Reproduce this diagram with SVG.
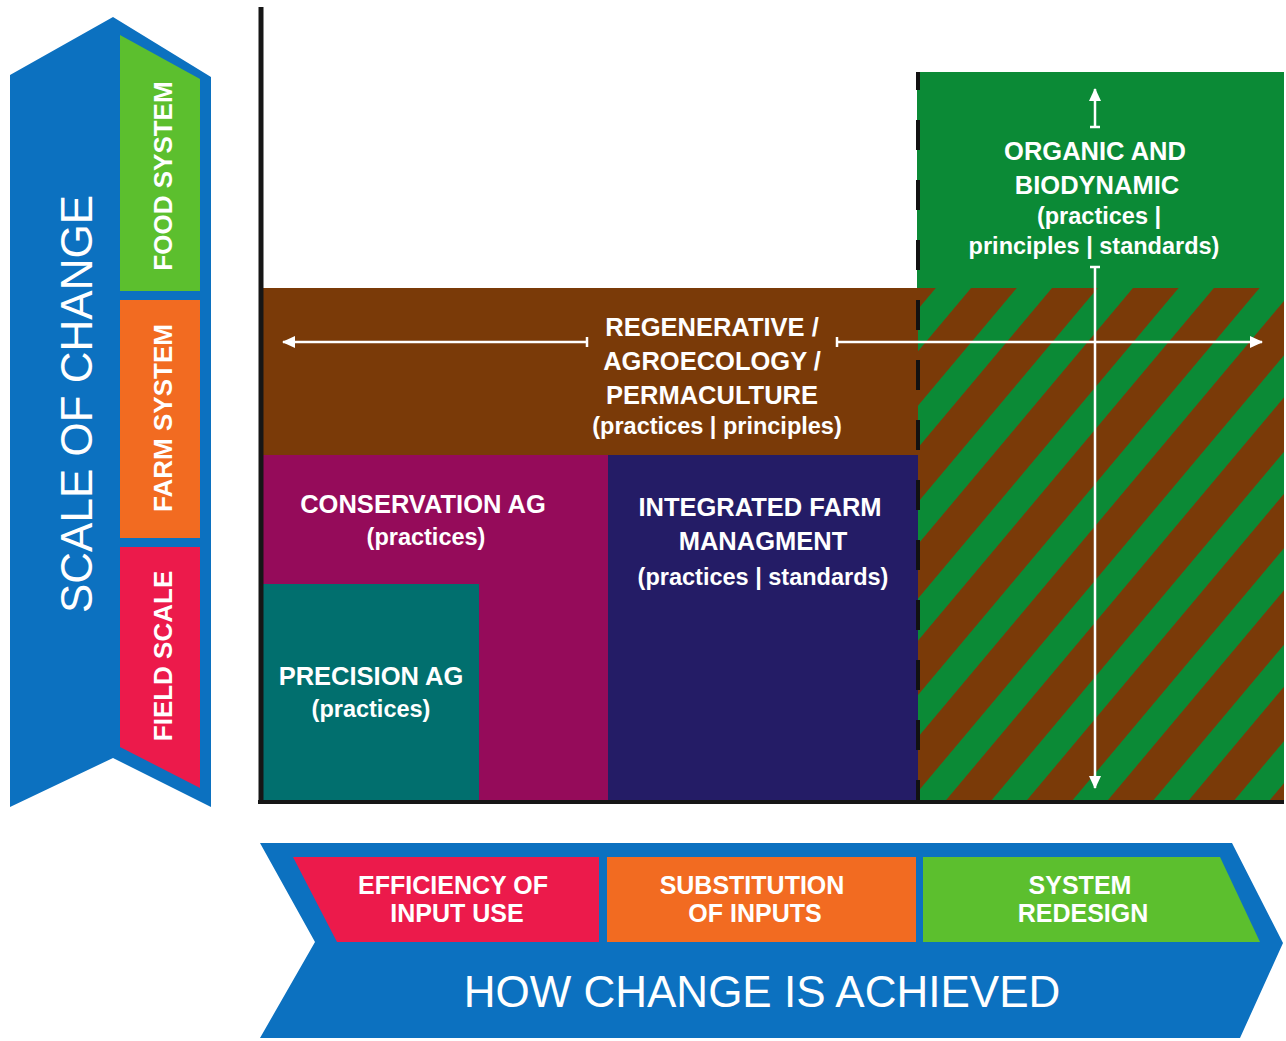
<svg xmlns="http://www.w3.org/2000/svg" width="1286" height="1041" viewBox="0 0 1286 1041">
  <style>
    .t { font-family: "Liberation Sans", Arial, sans-serif; fill: #ffffff; text-anchor: middle; }
    .h { font-size: 25.5px; font-weight: bold; }
    .s { font-size: 23.5px; font-weight: bold; }
    .side { font-size: 26px; font-weight: bold; }
    .big { font-size: 44px; font-weight: normal; }
    .bot { font-size: 25px; font-weight: bold; }
    .arr { stroke: #ffffff; stroke-width: 2.5; fill: none; }
    .tick { stroke: #ffffff; stroke-width: 2.5; }
  </style>
  <defs>
    <marker id="ah" markerUnits="userSpaceOnUse" markerWidth="14" markerHeight="12" refX="12" refY="6" orient="auto">
      <path d="M0,0 L13,6 L0,12 Z" fill="#ffffff"/>
    </marker>
    <pattern id="hatch" patternUnits="userSpaceOnUse" width="62" height="62" patternTransform="translate(1052,288) rotate(40)">
      <rect x="0" y="0" width="62" height="62" fill="#0b8a36"/>
      <rect x="0" y="0" width="35" height="62" fill="#7a3a08"/>
    </pattern>
  </defs>

  <rect width="1286" height="1041" fill="#ffffff"/>

  <!-- Scale of change (left chevron) -->
  <g id="scale-of-change">
    <polygon points="10,75 113,17 211,77 211,807 113,758 10,807" fill="#0c71c0"/>
    <text class="t big" transform="translate(92,404) rotate(-90)">SCALE OF CHANGE</text>
  </g>
  <g id="food-system">
    <polygon points="120,35 200,79 200,291 120,291" fill="#5cbf2e"/>
    <text class="t side" transform="translate(172,176) rotate(-90)">FOOD SYSTEM</text>
  </g>
  <g id="farm-system">
    <rect x="120" y="300" width="80" height="238" fill="#f26b21"/>
    <text class="t side" transform="translate(172,418) rotate(-90)">FARM SYSTEM</text>
  </g>
  <g id="field-scale">
    <polygon points="120,547 200,547 200,788 120,747" fill="#ec1a4b"/>
    <text class="t side" transform="translate(172,656) rotate(-90)">FIELD SCALE</text>
  </g>

  <!-- Organic and biodynamic -->
  <g id="organic">
    <rect x="917" y="72" width="367" height="217" fill="#0b8a36"/>
    <rect x="918" y="288" width="366" height="512" fill="url(#hatch)"/>
    <text class="t h" x="1095" y="160">ORGANIC AND</text>
    <text class="t h" x="1097" y="194">BIODYNAMIC</text>
    <text class="t s" x="1099" y="224">(practices |</text>
    <text class="t s" x="1094" y="254">principles | standards)</text>
  </g>

  <!-- Regenerative -->
  <g id="regenerative">
    <rect x="263" y="288" width="655" height="168" fill="#7a3a08"/>
    <text class="t h" x="712" y="336">REGENERATIVE /</text>
    <text class="t h" x="712" y="370">AGROECOLOGY /</text>
    <text class="t h" x="712" y="404">PERMACULTURE</text>
    <text class="t s" x="717" y="434">(practices | principles)</text>
  </g>

  <!-- Conservation AG -->
  <g id="conservation">
    <rect x="263" y="455" width="345" height="346" fill="#950b5a"/>
    <text class="t h" x="423" y="513">CONSERVATION AG</text>
    <text class="t s" x="426" y="545">(practices)</text>
  </g>

  <!-- Precision AG -->
  <g id="precision">
    <rect x="263" y="584" width="216" height="217" fill="#016f6e"/>
    <text class="t h" x="371" y="685">PRECISION AG</text>
    <text class="t s" x="371" y="717">(practices)</text>
  </g>

  <!-- Integrated farm management -->
  <g id="integrated">
    <rect x="608" y="455" width="310" height="346" fill="#241c66"/>
    <text class="t h" x="760" y="516">INTEGRATED FARM</text>
    <text class="t h" x="763" y="550">MANAGMENT</text>
    <text class="t s" x="763" y="585">(practices | standards)</text>
  </g>

  <!-- Axes and dashed divider -->
  <g id="axes">
    <line x1="261" y1="7" x2="261" y2="804" stroke="#161616" stroke-width="5"/>
    <line x1="258" y1="802" x2="1284" y2="802" stroke="#161616" stroke-width="4"/>
    <line x1="918" y1="72" x2="918" y2="800" stroke="#111111" stroke-width="4" stroke-dasharray="30 30" stroke-dashoffset="12"/>
  </g>

  <!-- Connectors -->
  <g id="connectors">
    <line class="arr" x1="587" y1="342" x2="283" y2="342" marker-end="url(#ah)"/>
    <line class="tick" x1="587" y1="337" x2="587" y2="347"/>
    <line class="arr" x1="837" y1="342" x2="1262" y2="342" marker-end="url(#ah)"/>
    <line class="tick" x1="837" y1="337" x2="837" y2="347"/>
    <line class="arr" x1="1095" y1="127" x2="1095" y2="89" marker-end="url(#ah)"/>
    <line class="tick" x1="1090" y1="127" x2="1100" y2="127"/>
    <line class="arr" x1="1095" y1="267" x2="1095" y2="788" marker-end="url(#ah)"/>
    <line class="tick" x1="1090" y1="267" x2="1100" y2="267"/>
  </g>

  <!-- How change is achieved (bottom chevron) -->
  <g id="how-change">
    <polygon points="260,843 1232,843 1283,943 1240,1038 260,1038 315,942" fill="#0c71c0"/>
    <text class="t big" x="762" y="1007">HOW CHANGE IS ACHIEVED</text>
  </g>
  <g id="efficiency">
    <polygon points="293,857 599,857 599,942 337,942" fill="#ec1a4b"/>
    <text class="t bot" x="453" y="894">EFFICIENCY OF</text>
    <text class="t bot" x="457" y="922">INPUT USE</text>
  </g>
  <g id="substitution">
    <rect x="607" y="857" width="309" height="85" fill="#f26b21"/>
    <text class="t bot" x="752" y="894">SUBSTITUTION</text>
    <text class="t bot" x="755" y="922">OF INPUTS</text>
  </g>
  <g id="redesign">
    <polygon points="923,857 1220,857 1260,942 923,942" fill="#5cbf2e"/>
    <text class="t bot" x="1080" y="894">SYSTEM</text>
    <text class="t bot" x="1083" y="922">REDESIGN</text>
  </g>
</svg>
